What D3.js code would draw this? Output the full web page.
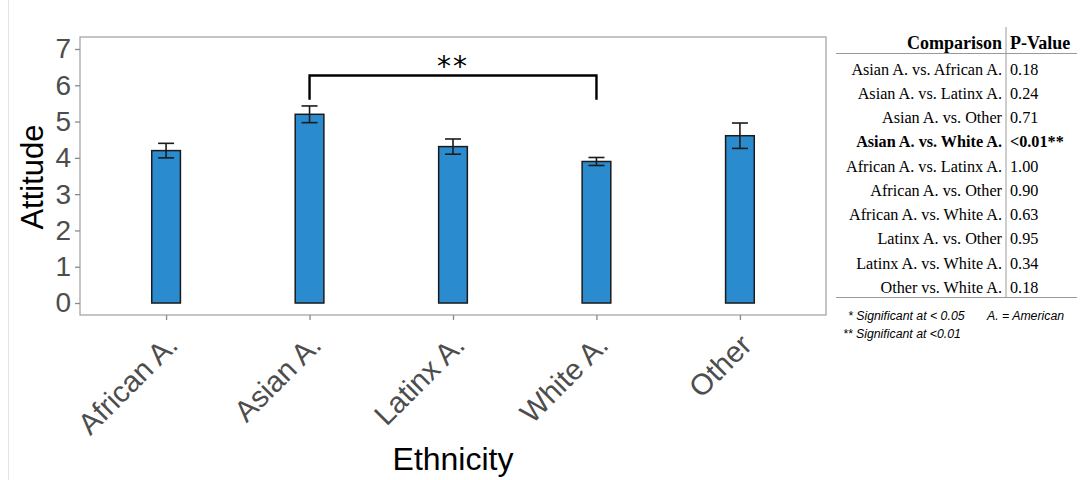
<!DOCTYPE html>
<html><head><meta charset="utf-8">
<script src="https://cdn.jsdelivr.net/npm/d3@7"></script>
<style>
body{margin:0;background:#fff;}
svg{display:block;}
</style></head>
<body>
<svg id="chart" width="1083" height="480"></svg>
<script>
const categories = ["African A.", "Asian A.", "Latinx A.", "White A.", "Other"];
const means = [4.2, 5.2, 4.31, 3.9, 4.61];
const errors = [0.2, 0.23, 0.21, 0.11, 0.35];
const yTicks = [0, 1, 2, 3, 4, 5, 6, 7];
const bracket = {from: "Asian A.", to: "White A.", top: 6.27, leg: 5.6, label: "**"};
const comparisons = ["Asian A. vs. African A.", "Asian A. vs. Latinx A.", "Asian A. vs. Other", "Asian A. vs. White A.",
  "African A. vs. Latinx A.", "African A. vs. Other", "African A. vs. White A.", "Latinx A. vs. Other",
  "Latinx A. vs. White A.", "Other vs. White A."];
const pValues = ["0.18", "0.24", "0.71", "<0.01**", "1.00", "0.90", "0.63", "0.95", "0.34", "0.18"];
const boldRows = [3];
const tableHeaders = ["Comparison", "P-Value"];
const footnotes = ["* Significant at < 0.05", "** Significant at <0.01", "A. = American"];

const svg = d3.select("#chart");
const sans = "'Liberation Sans', Arial, Helvetica, sans-serif";
const serif = "'Liberation Serif', 'Times New Roman', Times, serif";

// faint page edge
svg.append("line").attr("x1", 8.5).attr("x2", 8.5).attr("y1", 0).attr("y2", 480)
  .attr("stroke", "#e4e4e4").attr("stroke-width", 1);

const panel = {left: 80, right: 826, top: 37, bottom: 315};
const x = d3.scalePoint().domain(categories).range([panel.left, panel.right]).padding(0.6);
const y = d3.scaleLinear().domain([-0.33, 7.33]).range([panel.bottom, panel.top]);
const barW = x.step() * 0.2;

// panel border
svg.append("rect").attr("x", panel.left).attr("y", panel.top)
  .attr("width", panel.right - panel.left).attr("height", panel.bottom - panel.top)
  .attr("fill", "none").attr("stroke", "#a6a6a6").attr("stroke-width", 1.3);

// y axis
const yAxis = svg.append("g").attr("transform", `translate(${panel.left},0)`)
  .call(d3.axisLeft(y).tickValues(yTicks).tickSize(5).tickPadding(4).tickFormat(d3.format("d")));
yAxis.select(".domain").remove();
yAxis.selectAll(".tick line").attr("stroke", "#8a8a8a").attr("stroke-width", 1.3);
yAxis.selectAll(".tick text").attr("fill", "#4d4d4d").style("font-family", sans).style("font-size", "28px");

// x axis
const xAxis = svg.append("g").attr("transform", `translate(0,${panel.bottom})`)
  .call(d3.axisBottom(x).tickSize(5).tickPadding(4));
xAxis.select(".domain").remove();
xAxis.selectAll(".tick line").attr("stroke", "#8a8a8a").attr("stroke-width", 1.3);
xAxis.selectAll(".tick text")
  .attr("fill", "#4d4d4d").style("font-family", sans).style("font-size", "29.5px")
  .attr("text-anchor", "end").attr("dy", null).attr("y", 0)
  .attr("transform", "translate(13,32) rotate(-45)");

// bars
svg.append("g").selectAll("rect").data(categories).join("rect")
  .attr("x", d => x(d) - barW / 2)
  .attr("y", (d, i) => y(means[i]))
  .attr("width", barW)
  .attr("height", (d, i) => y(0) - y(means[i]))
  .attr("fill", "#2a8bcf").attr("stroke", "#1b1b1b").attr("stroke-width", 1.5);

// error bars
const capW = 16;
const eb = svg.append("g").attr("stroke", "#1b1b1b").attr("stroke-width", 1.6).attr("fill", "none");
categories.forEach((c, i) => {
  const cx = x(c), hi = y(means[i] + errors[i]), lo = y(means[i] - errors[i]);
  eb.append("line").attr("x1", cx).attr("x2", cx).attr("y1", hi).attr("y2", lo);
  eb.append("line").attr("x1", cx - capW / 2).attr("x2", cx + capW / 2).attr("y1", hi).attr("y2", hi);
  eb.append("line").attr("x1", cx - capW / 2).attr("x2", cx + capW / 2).attr("y1", lo).attr("y2", lo);
});

// significance bracket
const bx1 = x(bracket.from), bx2 = x(bracket.to);
svg.append("path")
  .attr("d", `M${bx1},${y(bracket.leg)}V${y(bracket.top)}H${bx2}V${y(bracket.leg)}`)
  .attr("fill", "none").attr("stroke", "#000").attr("stroke-width", 2.4);
svg.append("text").attr("x", (bx1 + bx2) / 2).attr("y", y(bracket.top) + 1)
  .attr("text-anchor", "middle").style("font-family", "'DejaVu Sans', sans-serif")
  .style("font-size", "28px").attr("fill", "#000").attr("letter-spacing", "2px").text(bracket.label);

// axis titles
svg.append("text").attr("transform", `translate(43,${(panel.top + panel.bottom) / 2 + 1}) rotate(-90)`)
  .attr("text-anchor", "middle").style("font-family", sans).style("font-size", "31px")
  .attr("fill", "#000").text("Attitude");
svg.append("text").attr("x", (panel.left + panel.right) / 2).attr("y", 470)
  .attr("text-anchor", "middle").style("font-family", sans).style("font-size", "32px")
  .attr("fill", "#000").text("Ethnicity");

// table
const tbl = svg.append("g");
const divX = 1006, rowY0 = 69, rowH = 24.25;
tbl.append("line").attr("x1", divX).attr("x2", divX).attr("y1", 27).attr("y2", 298)
  .attr("stroke", "#9a9a9a").attr("stroke-width", 1);
tbl.append("line").attr("x1", 836).attr("x2", 1077).attr("y1", 53.5).attr("y2", 53.5)
  .attr("stroke", "#9a9a9a").attr("stroke-width", 1);
tbl.append("line").attr("x1", 836).attr("x2", 1077).attr("y1", 297.5).attr("y2", 297.5)
  .attr("stroke", "#9a9a9a").attr("stroke-width", 1);
tbl.append("text").attr("x", divX - 4).attr("y", 48.5).attr("text-anchor", "end")
  .style("font-family", serif).style("font-size", "18px").style("font-weight", "bold").text(tableHeaders[0]);
tbl.append("text").attr("x", divX + 4).attr("y", 48.5)
  .style("font-family", serif).style("font-size", "18px").style("font-weight", "bold").text(tableHeaders[1]);
comparisons.forEach((c, i) => {
  const yy = rowY0 + i * rowH + 5.5;
  const bold = boldRows.includes(i) ? "bold" : "normal";
  tbl.append("text").attr("x", divX - 4).attr("y", yy).attr("text-anchor", "end")
    .style("font-family", serif).style("font-size", "16.2px").style("font-weight", bold).text(c);
  tbl.append("text").attr("x", divX + 4).attr("y", yy)
    .style("font-family", serif).style("font-size", "16.2px").style("font-weight", bold).text(pValues[i]);
});
const fn = {fam: sans, size: "12.3px"};
tbl.append("text").attr("x", 848).attr("y", 320).style("font-family", fn.fam).style("font-size", fn.size)
  .style("font-style", "italic").text(footnotes[0]);
tbl.append("text").attr("x", 843).attr("y", 338).style("font-family", fn.fam).style("font-size", fn.size)
  .style("font-style", "italic").text(footnotes[1]);
tbl.append("text").attr("x", 987).attr("y", 320).style("font-family", fn.fam).style("font-size", fn.size)
  .style("font-style", "italic").text(footnotes[2]);
</script>
</body></html>
